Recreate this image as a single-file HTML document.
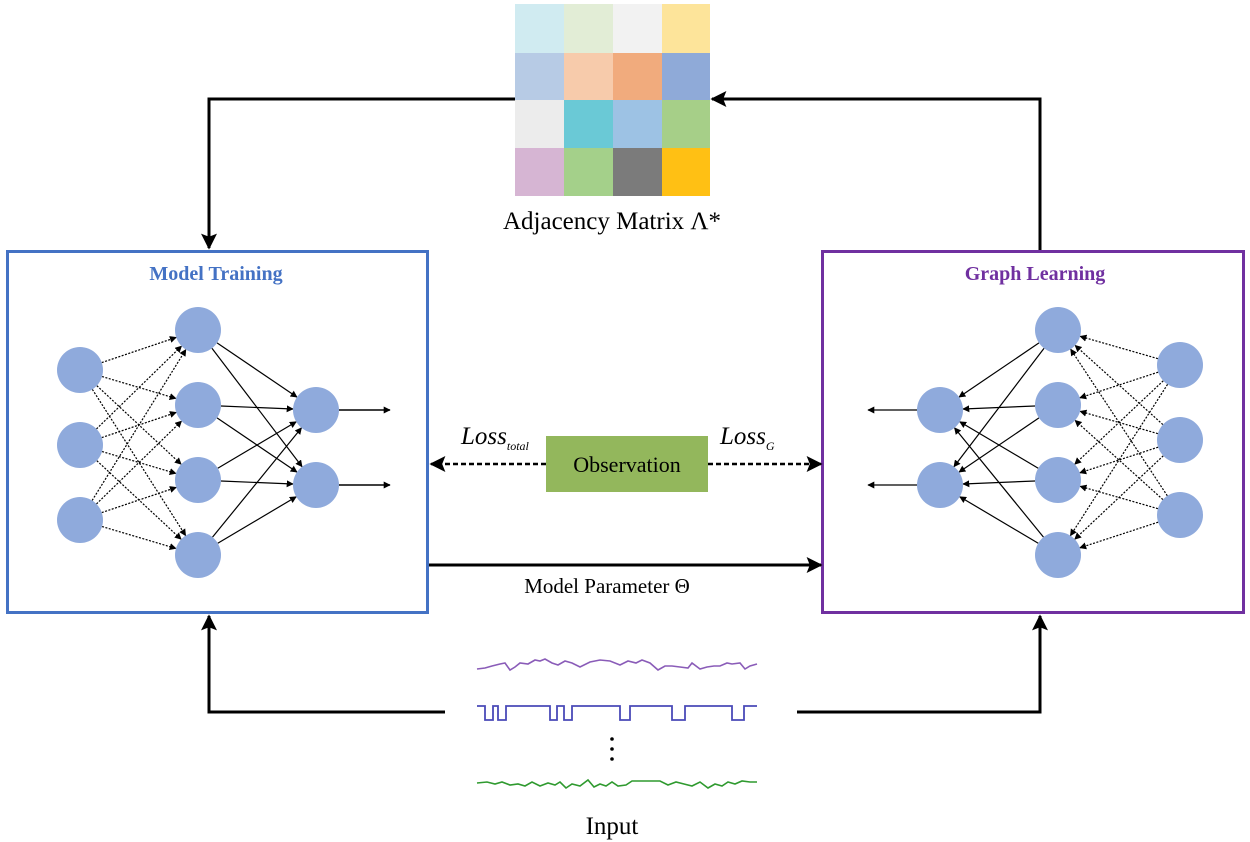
<!DOCTYPE html>
<html><head><meta charset="utf-8"><style>
html,body{margin:0;padding:0;background:#fff;width:1250px;height:842px;overflow:hidden}
svg text{font-family:"Liberation Serif",serif}
</style></head><body>
<svg id="s" width="1250" height="842" viewBox="0 0 1250 842" xmlns="http://www.w3.org/2000/svg">
<defs>
<marker id="ah" viewBox="0 0 10 10" refX="9" refY="5" markerWidth="7" markerHeight="7" orient="auto" markerUnits="userSpaceOnUse"><path d="M0,0 L10,5 L0,10 z" fill="#000"/></marker>
<marker id="big" viewBox="0 0 10 10" refX="9" refY="5" markerWidth="18" markerHeight="16" orient="auto" markerUnits="userSpaceOnUse"><path d="M0,0 L10,5 L0,10 L2,5 z" fill="#000"/></marker>
<marker id="sm" viewBox="0 0 10 10" refX="9" refY="5" markerWidth="10" markerHeight="8" orient="auto" markerUnits="userSpaceOnUse"><path d="M0,0 L10,5 L0,10 z" fill="#000"/></marker>
</defs>
<!-- matrix -->
<g>
<rect x="515" y="4" width="49" height="49" fill="#d0ebf1"/><rect x="564" y="4" width="49" height="49" fill="#e2edd6"/><rect x="613" y="4" width="49" height="49" fill="#f2f2f2"/><rect x="662" y="4" width="48" height="49" fill="#fde49a"/>
<rect x="515" y="53" width="49" height="47" fill="#b7cbe5"/><rect x="564" y="53" width="49" height="47" fill="#f7cbab"/><rect x="613" y="53" width="49" height="47" fill="#f1ab7d"/><rect x="662" y="53" width="48" height="47" fill="#8faad8"/>
<rect x="515" y="100" width="49" height="48" fill="#ececec"/><rect x="564" y="100" width="49" height="48" fill="#6ac9d6"/><rect x="613" y="100" width="49" height="48" fill="#9dc2e4"/><rect x="662" y="100" width="48" height="48" fill="#a6cf88"/>
<rect x="515" y="148" width="49" height="48" fill="#d6b5d3"/><rect x="564" y="148" width="49" height="48" fill="#a4d08a"/><rect x="613" y="148" width="49" height="48" fill="#7b7b7b"/><rect x="662" y="148" width="48" height="48" fill="#ffc014"/>
</g>
<text x="612" y="229" font-size="25" text-anchor="middle">Adjacency Matrix Λ*</text>
<!-- top arrows -->
<polyline points="515,99 209,99 209,248" fill="none" stroke="#000" stroke-width="3" marker-end="url(#big)"/>
<polyline points="1040,250 1040,99 712,99" fill="none" stroke="#000" stroke-width="3" marker-end="url(#big)"/>
<!-- boxes -->
<rect x="7.5" y="251.5" width="420" height="361" fill="none" stroke="#4472c4" stroke-width="3"/>
<rect x="822.5" y="251.5" width="421" height="361" fill="none" stroke="#7030a0" stroke-width="3"/>
<text x="216" y="280" font-size="20" font-weight="bold" fill="#4472c4" text-anchor="middle">Model Training</text>
<text x="1035" y="280" font-size="20" font-weight="bold" fill="#7030a0" text-anchor="middle">Graph Learning</text>
<g id="nn"></g>
<!-- observation -->
<rect x="546" y="436" width="162" height="56" fill="#93b75c"/>
<text x="627" y="472" font-size="22" text-anchor="middle">Observation</text>
<line x1="546" y1="464" x2="431" y2="464" stroke="#000" stroke-width="2.5" stroke-dasharray="5,3" marker-end="url(#big)"/>
<line x1="708" y1="464" x2="821" y2="464" stroke="#000" stroke-width="2.5" stroke-dasharray="5,3" marker-end="url(#big)"/>
<text x="461" y="444" font-size="25" font-style="italic">Loss<tspan font-size="12" dy="6">total</tspan></text>
<text x="720" y="444" font-size="25" font-style="italic">Loss<tspan font-size="12" dy="6">G</tspan></text>
<line x1="429" y1="565" x2="821" y2="565" stroke="#000" stroke-width="3" marker-end="url(#big)"/>
<text x="607" y="593" font-size="21" text-anchor="middle">Model Parameter Θ</text>
<!-- bottom arrows -->
<polyline points="445,712 209,712 209,616" fill="none" stroke="#000" stroke-width="3" marker-end="url(#big)"/>
<polyline points="797,712 1040,712 1040,616" fill="none" stroke="#000" stroke-width="3" marker-end="url(#big)"/>
<!-- signals -->
<polyline fill="none" stroke="#8a5cb8" stroke-width="1.6" points="477,669 485,668 492,666 500,664 505,663 510,670 515,667 520,663 528,664 535,660 540,661 545,659 552,663 558,665 565,661 572,663 580,667 590,662 600,660 610,661 620,665 628,661 636,663 642,660 650,663 658,670 665,666 672,666 680,667 688,668 692,663 700,669 707,667 714,666 720,666 727,663 732,664 740,663 745,669 750,666 757,664"/>
<polyline fill="none" stroke="#4a4ab8" stroke-width="1.8" points="477,706 485,706 485,720 493,720 493,706 498,706 498,720 506,720 506,706 550,706 550,720 557,720 557,706 564,706 564,720 572,720 572,706 620,706 620,720 630,720 630,706 672,706 672,720 685,720 685,706 732,706 732,720 744,720 744,706 757,706"/>
<circle cx="612" cy="739" r="1.8" fill="#000"/><circle cx="612" cy="749" r="1.8" fill="#000"/><circle cx="612" cy="759" r="1.8" fill="#000"/>
<polyline fill="none" stroke="#2f9a2f" stroke-width="1.6" points="477,783 487,782 495,784 502,782 510,785 518,784 525,786 532,782 540,786 548,783 555,785 560,782 566,788 572,784 580,786 588,780 594,787 600,784 606,786 612,782 618,786 626,785 632,781 640,781 650,781 660,781 668,785 676,782 684,784 692,786 700,782 708,788 715,784 722,786 728,782 735,784 742,781 750,782 757,782"/>
<text x="612" y="834" font-size="25" text-anchor="middle">Input</text>
</svg>
<script>
var g=document.getElementById('nn'),N='http://www.w3.org/2000/svg';
function ln(x1,y1,x2,y2,d,m,w){var l=document.createElementNS(N,'line');l.setAttribute('x1',x1);l.setAttribute('y1',y1);l.setAttribute('x2',x2);l.setAttribute('y2',y2);l.setAttribute('stroke','#000');l.setAttribute('stroke-width',w||1.2);if(d)l.setAttribute('stroke-dasharray','2,1.5');if(m)l.setAttribute('marker-end','url(#ah)');g.appendChild(l);}
function c(x,y){var e=document.createElementNS(N,'circle');e.setAttribute('cx',x);e.setAttribute('cy',y);e.setAttribute('r',23);e.setAttribute('fill','#8faadc');g.appendChild(e);}
var R=23,H=[330,405,480,555],I=[370,445,520],O=[410,485];
// left
I.forEach(a=>H.forEach(b=>{var dx=198-80,dy=b-a,L=Math.hypot(dx,dy);ln(80+R*dx/L,a+R*dy/L,198-R*dx/L,b-R*dy/L,1,1);}));
H.forEach(a=>O.forEach(b=>{var dx=316-198,dy=b-a,L=Math.hypot(dx,dy);ln(198+R*dx/L,a+R*dy/L,316-R*dx/L,b-R*dy/L,0,1);}));
O.forEach(b=>ln(339,b,390,b,0,1,1.4));
// right
var RI=[365,440,515];
RI.forEach(a=>H.forEach(b=>{var dx=1058-1180,dy=b-a,L=Math.hypot(dx,dy);ln(1180+R*dx/L,a+R*dy/L,1058-R*dx/L,b-R*dy/L,1,1);}));
H.forEach(a=>O.forEach(b=>{var dx=940-1058,dy=b-a,L=Math.hypot(dx,dy);ln(1058+R*dx/L,a+R*dy/L,940-R*dx/L,b-R*dy/L,0,1);}));
O.forEach(b=>ln(917,b,868,b,0,1,1.2));
I.forEach(y=>c(80,y));H.forEach(y=>c(198,y));O.forEach(y=>c(316,y));
RI.forEach(y=>c(1180,y));H.forEach(y=>c(1058,y));O.forEach(y=>c(940,y));
</script>
</body></html>
